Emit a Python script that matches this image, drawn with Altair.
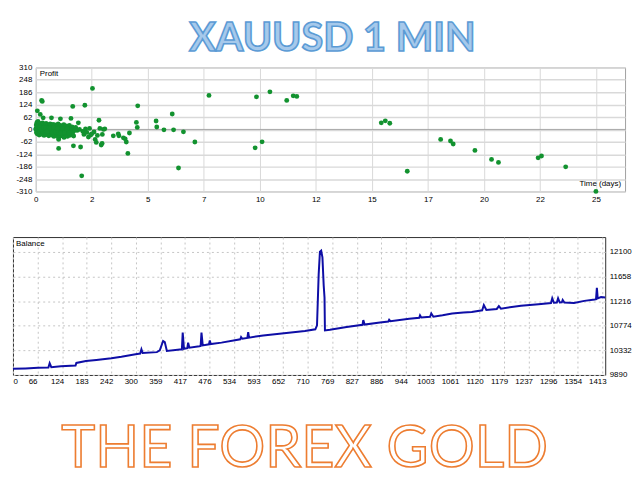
import altair as alt
import pandas as pd

FONT = "Liberation Sans"

title_text = ["XAUUSD 1 MIN"]
footer_text = ["THE FOREX GOLD"]
profit_label = ["Profit"]
time_label = ["Time (days)"]
balance_label = ["Balance"]

# ---- scatter: profit per trade vs holding time (days) ----
days = (
    [0.02, 0.05, 0.08, 0.10, 0.13, 0.16, 0.20, 0.23, 0.27, 0.30,
     0.34, 0.38, 0.42, 0.46, 0.50, 0.55, 0.60, 0.64, 0.68, 0.72,
     0.77, 0.82, 0.86, 0.90, 0.95, 1.00, 1.05, 1.10, 1.15, 1.20,
     1.25, 1.30, 1.35, 1.40, 1.45, 1.50, 1.55, 1.62, 1.70]
    + [0.01, 0.04, 0.07, 0.11, 0.14, 0.17, 0.21, 0.24, 0.28, 0.32,
       0.36, 0.40, 0.44, 0.48, 0.52, 0.56, 0.61, 0.66, 0.70, 0.75,
       0.80, 0.85, 0.89, 0.94, 0.99, 1.04, 1.08, 1.13, 1.18, 1.22,
       1.27, 1.32, 1.37, 1.42, 1.47, 1.52, 1.58, 1.65, 1.74]
    + [0.03, 0.06, 0.12, 0.15, 0.19, 0.25, 0.29, 0.33, 0.37, 0.41,
       0.45, 0.49, 0.53, 0.58, 0.63, 0.67, 0.71, 0.76, 0.81, 0.84,
       0.88, 0.92, 0.97, 1.02, 1.07, 1.11, 1.16, 1.21, 1.26, 1.31,
       1.36, 1.41, 1.46, 1.51, 1.57, 1.63, 1.69]
    + [0.00, 0.09, 0.18, 0.26, 0.35, 0.43, 0.51, 0.59, 0.65, 0.73,
       0.79, 0.87, 0.96, 1.01, 1.09, 1.19, 1.29, 1.39, 1.49]
    + [0.07, 0.20, 0.33, 0.26, 0.29, 0.70, 1.10, 1.57, 1.65, 2.19,
       2.53, 1.90, 2.82, 1.02, 1.02, 1.02, 1.68, 2.00, 2.05, 1.78,
       1.85, 1.95, 2.10, 2.15, 2.22, 2.28, 2.35, 2.40, 2.45, 2.50,
       2.60, 2.65, 2.70, 2.75, 2.86, 2.92, 2.96, 3.02, 3.08, 3.46,
       3.68, 3.71, 3.91, 3.99, 4.04, 4.18, 4.11, 4.55, 4.49, 4.53,
       5.37, 5.40, 5.72, 6.15, 6.09, 6.59, 7.10, 6.37, 7.73, 9.85,
       10.45, 11.20, 11.49, 11.65, 9.79, 10.10, 15.42, 15.60, 15.80, 16.58,
       18.07, 18.51, 18.63, 19.60, 20.34, 20.65, 22.42, 22.57, 23.65, 25.00,
       2.97]
)
profit = (
    [22, 35, 18, 40, 25, 30, 15, 28, 20, 33,
     12, 24, 18, 30, 14, 22, 17, 27, 12, 20,
     25, 15, 22, 10, 18, 28, 12, 20, 8, 16,
     24, 10, 18, 6, 14, 20, 5, 12, 4]
    + [5, -3, 8, 0, 6, -5, 3, -8, 5, -2,
       4, -6, 2, -4, 6, -8, 0, -5, 3, -9,
       1, -6, 4, -10, -2, -7, 2, -12, -3, -9,
       0, -6, -14, -4, -10, -2, -8, -15, -5]
    + [-15, -22, -12, -28, -18, -14, -25, -16, -30, -20,
       -13, -26, -18, -32, -22, -15, -28, -20, -35, -24,
       -16, -30, -22, -38, -25, -18, -32, -24, -40, -20,
       -28, -35, -22, -30, -18, -27, -33]
    + [0, 12, 10, -1, 8, 10, -10, 8, 5, -14,
       10, -12, 5, -15, -20, 5, -16, 2, -18]
    + [93, 75, 58, 145, 140, 58, 53, 55, 115, 121,
       205, 33, 46, -42, -50, -95, -82, -88, -232, 10,
       -5, 0, -10, -25, 2, -15, -38, 5, -28, -22,
       -13, -50, -65, -30, 5, -78, -70, 0, 3, -32,
       -22, -32, -42, -47, -63, -18, -120, 118, 35, 10,
       42, 12, -2, -2, 77, -12, -63, -193, 170, 163,
       188, 145, 168, 165, -92, -62, 33, 43, 31, -209,
       -50, -58, -73, -105, -150, -165, -142, -133, -187, -310,
       -25]
)
zero_line = [0]
profit_ticks = [-310, -248, -186, -124, -62, 0, 62, 124, 186, 248, 310]
time_ticks = [0, 2.5, 5, 7.5, 10, 12.5, 15, 17.5, 20, 22.5, 25]

# ---- balance curve ----
trade_no = [0, 30, 60, 85, 88, 92, 115, 150, 152, 175,
            200, 236, 260, 294, 305, 308, 311, 345, 352, 360,
            364, 369, 400, 405, 407, 410, 418, 420, 423, 447,
            450, 452, 455, 470, 472, 474, 500, 545, 547, 550,
            562, 564, 566, 600, 650, 700, 725, 729, 733, 736,
            739, 742, 745, 747, 748, 760, 800, 838, 840, 843,
            880, 900, 902, 905, 950, 974, 976, 979, 1000, 1003,
            1008, 1030, 1053, 1080, 1100, 1125, 1129, 1135, 1160, 1165,
            1170, 1218, 1260, 1290, 1293, 1297, 1304, 1307, 1311, 1316,
            1318, 1322, 1345, 1370, 1395, 1398, 1400, 1402, 1410, 1420]
balance = [10000, 10008, 10018, 10025, 10100, 10030, 10045, 10060, 10105, 10140,
           10160, 10190, 10215, 10260, 10275, 10350, 10285, 10300, 10330, 10500,
           10480, 10320, 10345, 10345, 10650, 10360, 10370, 10470, 10380, 10405,
           10410, 10650, 10420, 10440, 10510, 10445, 10470, 10530, 10570, 10540,
           10555, 10660, 10560, 10600, 10640, 10680, 10710, 10780, 11700, 12100,
           12120, 12000, 11500, 11280, 10690, 10700, 10750, 10790, 10875, 10795,
           10830, 10850, 10880, 10855, 10900, 10915, 10960, 10920, 10935, 10995,
           10935, 10960, 10992, 11009, 11020, 11050, 11145, 11055, 11075, 11125,
           11080, 11133, 11160, 11180, 11265, 11185, 11190, 11265, 11190, 11195,
           11235, 11190, 11182, 11220, 11246, 11250, 11455, 11265, 11287, 11280]
balance_ticks = [9890, 10332, 10774, 11216, 11658, 12100]
trade_tick_labels = ["0", "66", "124", "183", "242", "300", "359", "417", "476",
                     "534", "593", "652", "710", "769", "827", "886", "944",
                     "1003", "1061", "1120", "1179", "1237", "1296", "1354", "1413"]
spacer_text = [""]

SW = 594   # scatter plot width
BW = 597   # balance plot width
CLEAR = alt.ViewBackground(stroke="transparent")


def spacer(w, h):
    return alt.Chart(pd.DataFrame({"t": spacer_text})).mark_text().encode(
        text="t:N"
    ).properties(width=w, height=h, view=CLEAR)


# ---------------- title ----------------
tdf = pd.DataFrame({"t": title_text})
title_chart = alt.Chart(tdf).mark_text(
    font="Lato", fontWeight="bold", fontSize=40, align="center", baseline="alphabetic",
    fill="#a6c9eb", stroke="#5b9bd5", strokeWidth=1.6
).encode(x=alt.value(322), y=alt.value(40), text="t:N").properties(
    width=SW, height=50, view=CLEAR
)

# ---------------- scatter ----------------
sdf = pd.DataFrame({"days": days, "profit": profit})
y_scale = alt.Scale(domain=[-310, 310], nice=False, zero=False)
y_axis = alt.Axis(values=profit_ticks,
                  labelExpr="(datum.value < 0 ? '-' : '') + abs(datum.value)",
                  grid=True, gridColor="#d9d9d9", gridWidth=1.5, ticks=False,
                  domain=False, labelFont=FONT, labelFontSize=8,
                  labelColor="#000000", labelPadding=4, labelOverlap=False,
                  title=None)
xs = alt.X("days:Q", scale=alt.Scale(domain=[0, 26.3], nice=False, zero=False),
           axis=alt.Axis(values=time_ticks, labelExpr="floor(datum.value)", grid=True,
                         gridColor="#d9d9d9", gridWidth=1, ticks=False, domain=False,
                         labelFont=FONT, labelFontSize=8, labelColor="#000000",
                         labelPadding=4, labelFlush=False, labelOverlap=False, title=None))
zero_rule = alt.Chart(pd.DataFrame({"z": zero_line})).mark_rule(
    color="#a6a6a6", strokeWidth=1
).encode(y=alt.Y("z:Q", scale=y_scale, axis=y_axis))
pts = alt.Chart(sdf).mark_circle(size=24, color="#12922f", opacity=1).encode(
    x=xs, y=alt.Y("profit:Q", scale=y_scale, axis=y_axis)
)
p_lab = alt.Chart(pd.DataFrame({"t": profit_label})).mark_text(
    font=FONT, fontSize=8, align="left", baseline="middle", color="#000000"
).encode(x=alt.value(4), y=alt.value(7), text="t:N")
tm_lab = alt.Chart(pd.DataFrame({"t": time_label})).mark_text(
    font=FONT, fontSize=8, align="right", baseline="middle", color="#000000"
).encode(x=alt.value(590), y=alt.value(118), text="t:N")
scatter = alt.layer(zero_rule, pts, p_lab, tm_lab).properties(
    width=SW, height=125, view=alt.ViewBackground(stroke="#a0a0a0")
)
scatter_row = alt.hconcat(spacer(1, 1), scatter, spacing=0)

# ---------------- balance ----------------
step = 1413 / 24
trade_positions = [i * step for i in range(len(trade_tick_labels))]
lab_arr = "[" + ",".join("'" + s + "'" for s in trade_tick_labels) + "]"
bdf = pd.DataFrame({"trade": trade_no, "balance": balance})
bal_line = alt.Chart(bdf).mark_line(color="#0e0ea6", strokeWidth=2).encode(
    x=alt.X("trade:Q", scale=alt.Scale(domain=[0, 1420], nice=False, zero=False),
            axis=alt.Axis(values=trade_positions,
                          labelExpr=lab_arr + "[round(datum.value / " + repr(step) + ")]",
                          grid=True, gridColor="#c4c4c4", gridDash=[2, 3], ticks=False,
                          domain=False, labelFont=FONT, labelFontSize=8,
                          labelColor="#000000", labelPadding=3, labelOffset=-5,
                          labelFlushOffset=-5, labelOverlap=False, title=None)),
    y=alt.Y("balance:Q", scale=alt.Scale(domain=[9890, 12365], nice=False, zero=False),
            axis=alt.Axis(orient="right", values=balance_ticks, format="d", grid=True,
                          gridColor="#c4c4c4", gridDash=[2, 3], ticks=False, domain=False,
                          labelFont=FONT, labelFontSize=8, labelColor="#000000",
                          labelPadding=4, labelOverlap=False, title=None))
)
b_lab = alt.Chart(pd.DataFrame({"t": balance_label})).mark_text(
    font=FONT, fontSize=8, align="left", baseline="middle", color="#000000"
).encode(x=alt.value(3), y=alt.value(7), text="t:N")
balance_chart = alt.layer(bal_line, b_lab).properties(
    width=BW, height=139, view=alt.ViewBackground(stroke="#303030")
)

# ---------------- footer ----------------
fdf = pd.DataFrame({"t": footer_text})
footer = alt.Chart(fdf).mark_text(
    font="Lato", fontSize=58, align="center", baseline="alphabetic",
    fill="#ffffff", stroke="#ed7d31", strokeWidth=1.6
).encode(x=alt.value(294), y=alt.value(80), text="t:N").properties(
    width=SW, height=84, view=CLEAR
)

chart = alt.concat(
    title_chart, scatter_row, spacer(10, 30), balance_chart, footer,
    columns=1, spacing=0, align="none"
).properties(padding=0).configure(background="#ffffff")

chart.save("out.html", embed_options={"renderer": "svg", "actions": False})
